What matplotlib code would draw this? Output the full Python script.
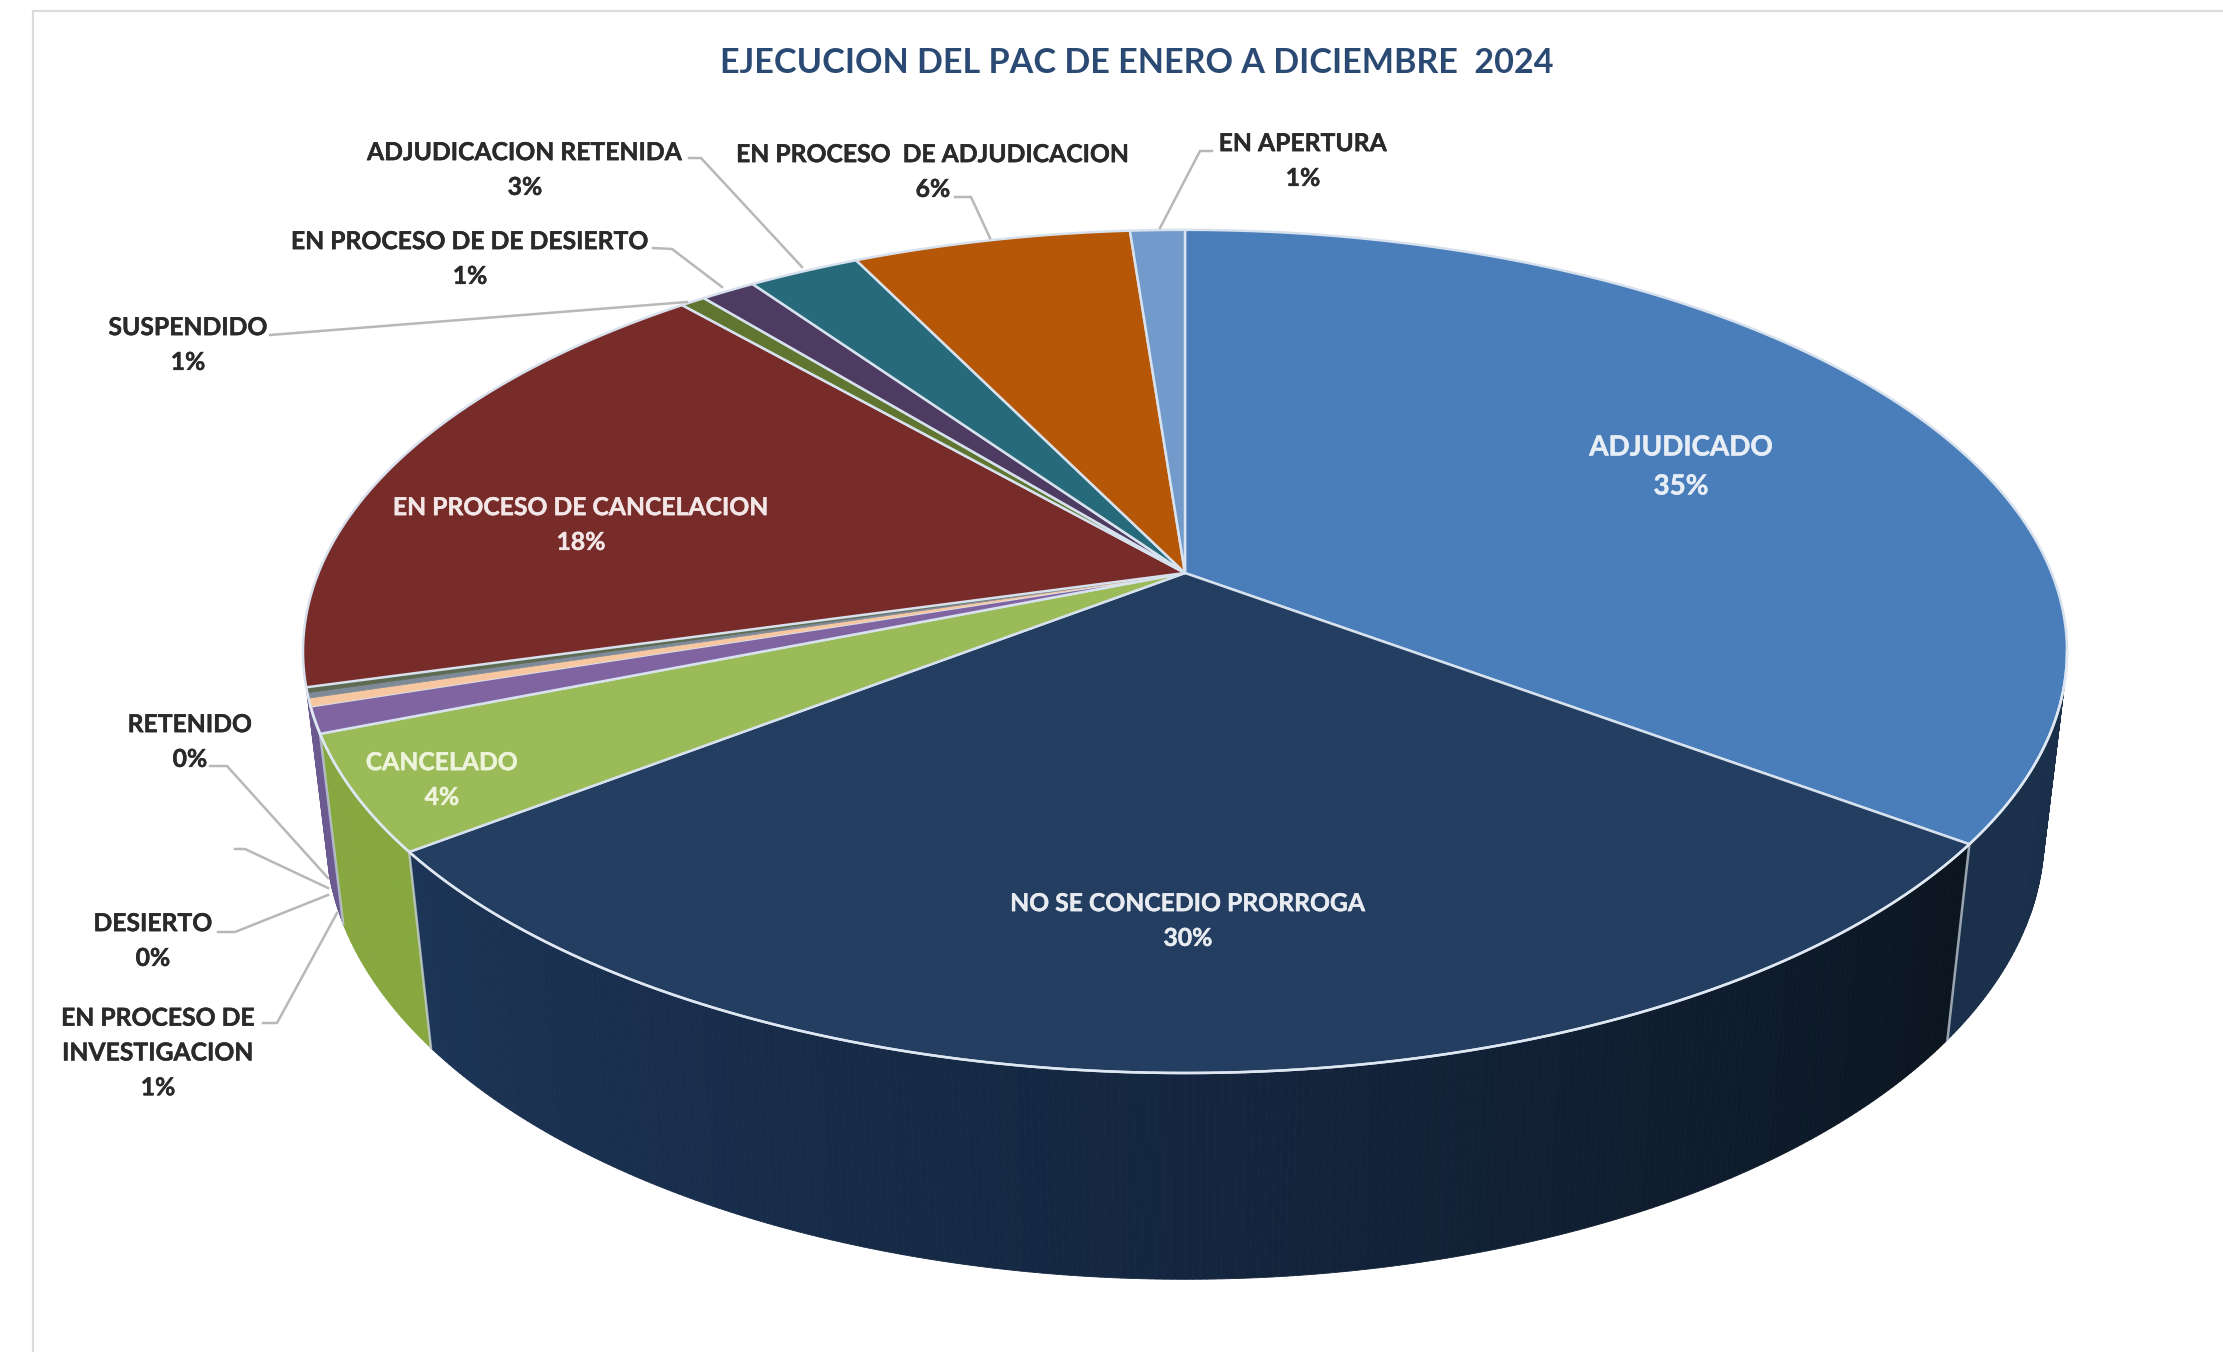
#!/usr/bin/env python3
"""Pie en perspectiva: ejecucion del PAC 2024."""
import matplotlib
matplotlib.use("Agg")
import matplotlib.pyplot as plt
import matplotlib.patheffects as pe
import numpy as np
from matplotlib.collections import PolyCollection
from matplotlib.colors import LinearSegmentedColormap

plt.rcParams["font.family"] = ["Lato", "DejaVu Sans"]

title = "EJECUCION DEL PAC DE ENERO A DICIEMBRE  2024"
categories = ["ADJUDICADO", "NO SE CONCEDIO PRORROGA", "CANCELADO",
              "EN PROCESO DE\nINVESTIGACION", "DESIERTO", "", "RETENIDO",
              "EN PROCESO DE CANCELACION", "SUSPENDIDO", "EN PROCESO DE DE DESIERTO",
              "ADJUDICACION RETENIDA", "EN PROCESO  DE ADJUDICACION", "EN APERTURA"]
shares = [35.1, 29.5, 4.4, 1.0, 0.3, 0.2, 0.2, 17.8, 0.55, 1.2, 2.45, 6.1, 1.2]
percent_labels = ["35%", "30%", "4%", "1%", "0%", "", "0%", "18%", "1%", "1%", "3%", "6%", "1%"]
top_colors = ["#4a7ebb", "#233e61", "#9bbb59", "#8064a2", "#f6c7a0", "#7f8a99", "#5d6b52",
              "#772c2a", "#5f7530", "#4d3b62", "#276a7c", "#b65708", "#729aca"]
wall_colors = ["#1a2f4a", "#14253c", "#87a73f", "#6a5a90", "#6a5a90", "#6a5a90", "#6a5a90",
               "#6a5a90", "#47581f", "#3a2c4a", "#1d505d", "#884106", "#5574a0"]

# label layout: centre of text, leader polyline in pixels
label_pos = {0: (1681, 467), 1: (1188, 921), 2: (442, 780), 3: (158, 1053), 4: (153, 941),
             6: (190, 742), 7: (581, 525), 8: (188, 345), 9: (470, 259), 10: (525, 170),
             11: (933, 172), 12: (1303, 161)}
inside = {0: "#e8eef6", 1: "#e8ebf0", 2: "#eef4dc", 7: "#f2e6e6"}
leaders = [[(210, 766), (227, 766), (328, 878)],
           [(235, 849), (245, 849), (328, 888)],
           [(218, 932), (235, 932), (328, 895)],
           [(263, 1023), (277, 1023), (337, 913)],
           [(270, 335), (687, 302)],
           [(653, 248), (672, 249), (722, 287)],
           [(689, 158), (701, 158), (802, 267)],
           [(955, 197), (971, 197), (990, 238)],
           [(1212, 151), (1200, 151), (1160, 228)]]

# perspective of the disc, fitted to the rim
APEX = (1185, 573)
A, B, C = 866.6, 407.0, 186.0
K, M = 0.186, 0.0256


def project(t_deg, z=0.0, r=1.0):
    t = np.radians(t_deg)
    x, y = r * np.sin(t), r * np.cos(t)
    w = 1 + K * y + M * z
    return APEX[0] + A * x / w, APEX[1] + (-B * y + C * z) / w


fig = plt.figure(figsize=(22.23, 13.52), dpi=100)
ax = fig.add_axes([0, 0, 1, 1])
ax.set_xlim(0, 2223)
ax.set_ylim(1352, 0)
ax.axis("off")

# frame of the pasted chart
ax.plot([33, 33, 2223], [1352, 11, 11], color="#dcdcdc", lw=1.6, solid_joinstyle="miter")

edges = np.cumsum([0] + shares) / sum(shares) * 360
navy = LinearSegmentedColormap.from_list("navy", ["#1c3456", "#14263f", "#0b1520"])

# side wall, front half only
VIS_A, VIS_B = 100.7, 254.5
polys, cols = [], []
for i, c in enumerate(wall_colors):
    a, b = max(edges[i], VIS_A), min(edges[i + 1], VIS_B)
    if a >= b:
        continue
    ts = np.arange(a, b, 0.4).tolist() + [b]
    for t0, t1 in zip(ts[:-1], ts[1:]):
        polys.append([project(t0), project(t1), project(t1, 1), project(t0, 1)])
        if i == 1:
            cols.append(navy(1 - (t0 - edges[1]) / (edges[2] - edges[1])))
        else:
            cols.append(c)
ax.add_collection(PolyCollection(polys, facecolors=cols, edgecolors=cols, linewidths=0.6))

# vertical seams on the wall
for t in edges[1:4]:
    xs, ys = zip(project(t), project(t, 1))
    ax.plot(xs, ys, color="#c8d2dc", lw=1.8, alpha=0.75)

# top face
for i, c in enumerate(top_colors):
    ts = np.linspace(edges[i], edges[i + 1], max(int(shares[i] * 6), 3))
    rim = [project(t) for t in ts]
    thin = shares[i] < 0.5
    ax.fill(*zip(APEX, *rim), facecolor=c, edgecolor=c if thin else "#d8e2ee",
            lw=0.5 if thin else 1.8, joinstyle="round")

# light rim over the front, where it shows against the dark wall
ts = np.linspace(VIS_A, VIS_B, 300)
ax.plot(*zip(*[project(t) for t in ts]), color="#dfe8f2", lw=1.8)

# leaders
for pts in leaders:
    ax.plot(*zip(*pts), color="#b8b8b8", lw=1.8, solid_joinstyle="round")

ax.text(1137, 63, title, ha="center", va="center", fontsize=24.6, fontweight="bold", color="#2b4a73")
for i, (x, y) in label_pos.items():
    col = inside.get(i, "#2a2a2a")
    ax.text(x, y, f"{categories[i]}\n{percent_labels[i]}", ha="center", va="center",
            fontsize=20 if i == 0 else 17.8, fontweight="bold", color=col, linespacing=1.62,
            path_effects=[pe.withStroke(linewidth=0.3, foreground=col)])

fig.savefig("out.png", dpi=100)
